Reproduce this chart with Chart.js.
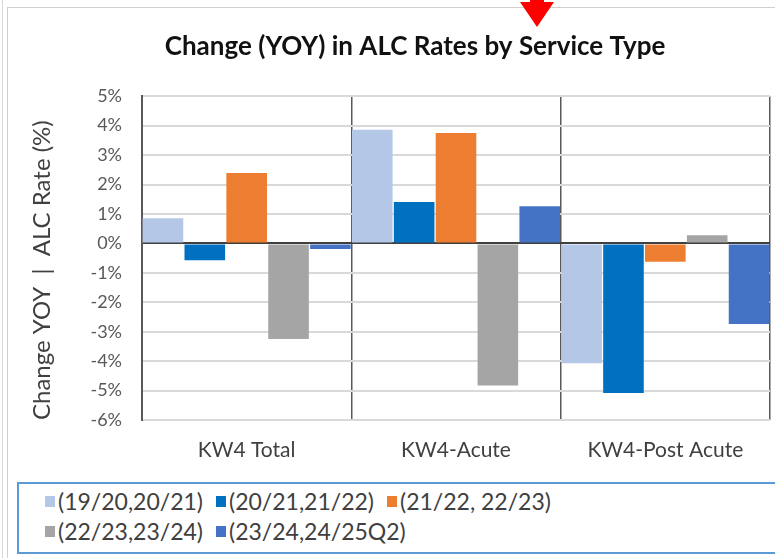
<!DOCTYPE html>
<html>
<head>
<meta charset="utf-8">
<script src="https://cdn.jsdelivr.net/npm/chart.js@4.4.1/dist/chart.umd.min.js"></script>
<style>
  body { margin: 0; background: #fff; font-family: Lato, "Open Sans", sans-serif; }
  #wrap { position: relative; width: 775px; height: 558px; overflow: hidden; }
  #frame { position: absolute; left: 7px; top: 7px; width: 780px; height: 560px; border-left: 1px solid #d0d0d0; border-top: 1px solid #d0d0d0; }
  #edge { position: absolute; left: 2px; top: 0; width: 1px; height: 558px; background: #d8d8d8; }
  #chartBox { position: absolute; left: 0; top: 0; width: 775px; height: 475px; }
  #legend { position: absolute; left: 17px; top: 482px; width: 780px; height: 72px; border: 2px solid #5b9bd5;
            display: grid; grid-template-columns: 171px 171px 171px; grid-auto-rows: 30px; padding: 2px 0 0 26px; box-sizing: border-box; }
  .item { display: flex; align-items: center; font-size: 23px; color: #404040; white-space: nowrap; }
  .box { width: 10px; height: 11px; margin-right: 3px; flex: none; }
</style>
</head>
<body>
<div id="wrap">
  <div id="edge"></div>
  <div id="frame"></div>
  <div id="chartBox"><canvas id="alcChart"></canvas></div>
  <div id="legend"></div>
</div>
<script>
// Data
const categories = ['KW4 Total', 'KW4-Acute', 'KW4-Post Acute'];
const seriesNames = ['(19/20,20/21)', '(20/21,21/22)', '(21/22, 22/23)', '(22/23,23/24)', '(23/24,24/25Q2)'];
const seriesColors = ['#b4c7e7', '#0070c0', '#ed7d31', '#a5a5a5', '#4472c4'];
const change1920 = [0.85, 3.86, -4.07];
const change2021 = [-0.57, 1.41, -5.08];
const change2122 = [2.39, 3.75, -0.62];
const change2223 = [-3.25, -4.83, 0.28];
const change2324 = [-0.19, 1.26, -2.74];
const yTicks = { min: -6, max: 5, step: 1 };

const seriesValues = [change1920, change2021, change2122, change2223, change2324];

// Red pointer arrow at top of the picture
const arrowPlugin = {
    id: 'arrow',
    afterDraw(chart) {
        const c = chart.ctx;
        c.save();
        c.fillStyle = '#ff0000';
        c.fillRect(530, 0, 14, 4);
        c.beginPath();
        c.moveTo(520, 2);
        c.lineTo(554, 2);
        c.lineTo(537, 27);
        c.closePath();
        c.fill();
        c.restore();
    }
};

function createChart() {
    const ctx = document.getElementById('alcChart');

    new Chart(ctx, {
        type: 'bar',
        data: {
            labels: categories,
            datasets: seriesNames.map((name, i) => ({
                label: name,
                data: seriesValues[i],
                backgroundColor: seriesColors[i],
                categoryPercentage: 1.0,
                barPercentage: 0.97
            }))
        },
        options: {
            responsive: true,
            maintainAspectRatio: false,
            animation: false,
            // left padding shifts the title centre to the right like the reference
            layout: { padding: { left: 60, right: 5, top: 0, bottom: 0 } },
            plugins: {
                legend: { display: false },
                tooltip: { enabled: false },
                title: {
                    display: true,
                    text: 'Change (YOY) in ALC Rates by Service Type',
                    color: '#111',
                    font: { family: 'Lato', size: 26, weight: 'bold' },
                    padding: { top: 31, bottom: 34 }
                }
            },
            scales: {
                x: {
                    grid: {
                        offset: true,
                        color: '#595959',
                        lineWidth: 1.5,
                        drawTicks: false
                    },
                    border: { display: false },
                    ticks: {
                        color: '#404040',
                        padding: 18,
                        font: { family: 'Lato', size: 21 }
                    },
                    afterFit(s) { s.height = 55; }
                },
                y: {
                    min: yTicks.min,
                    max: yTicks.max,
                    grid: {
                        color: c => c.tick && c.tick.value === 0 ? '#404040' : '#d9d9d9',
                        lineWidth: 2,
                        drawTicks: false
                    },
                    border: { display: true, color: '#595959', width: 2 },
                    ticks: {
                        stepSize: yTicks.step,
                        color: '#595959',
                        padding: 20,
                        font: { family: 'Lato', size: 18 },
                        callback: v => v + '%'
                    },
                    title: {
                        display: true,
                        align: 'start',
                        text: 'Change YOY  |  ALC Rate (%)',
                        color: '#404040',
                        font: { family: 'Lato', size: 24 },
                        padding: { top: -32, bottom: 0 }
                    },
                    afterFit(s) { s.width = 82; }
                }
            }
        },
        plugins: [arrowPlugin]
    });
}

// Legend laid out in columns like the reference
function renderLegend() {
    const box = document.getElementById('legend');
    box.innerHTML = seriesNames.map((name, i) => `
        <div class="item"><span class="box" style="background:${seriesColors[i]}"></span>${name}</div>
    `).join('');
}

document.addEventListener('DOMContentLoaded', () => {
    createChart();
    renderLegend();
});
</script>
</body>
</html>
